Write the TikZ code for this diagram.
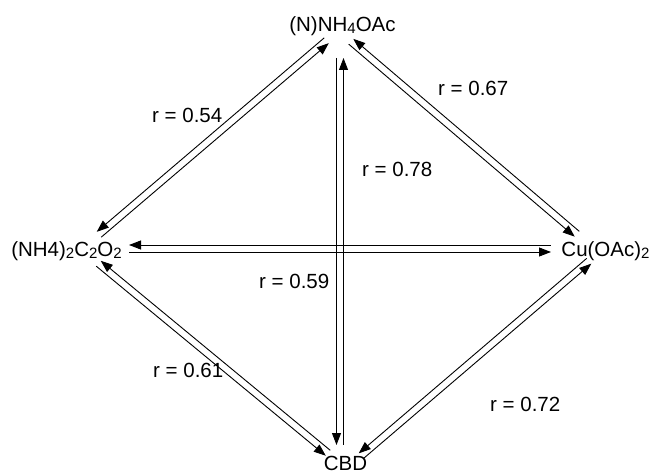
\documentclass[tikz,border=0pt]{standalone}
\usepackage{fontspec}
\setmainfont{Liberation Sans}
\usetikzlibrary{arrows.meta,calc}
\newcommand\sub[1]{\raisebox{-2pt}{\fontsize{15}{15}\selectfont #1}}
\tikzset{
  chem/.style={inner sep=0pt, font=\fontsize{20.5}{24}\selectfont, anchor=base},
  lbl/.style={inner sep=0pt, font=\fontsize{20.5}{24}\selectfont, anchor=base west},
  conn/.style={line width=0.9pt, draw=black},
  tip/.tip={Triangle[length=12pt,width=9pt]}
}
% left line: arrow at first end; right line: arrow at second end
\newcommand\dpair[2]{%
  \draw[conn,tip-] ($#1!3.5pt!90:#2$) -- ($#2!3.5pt!-90:#1$);
  \draw[conn,-tip] ($#1!3.5pt!-90:#2$) -- ($#2!3.5pt!90:#1$);
}
\begin{document}
\begin{tikzpicture}[x=1pt,y=1pt]
\useasboundingbox (0,0) rectangle (650,475);
\node[chem] (A) at (342.5,443) {(N)NH\sub{4}OAc};
\node[chem] (L) at (66.5,219) {(NH4)\sub{2}C\sub{2}O\sub{2}};
\node[chem] (R) at (605.5,219) {Cu(OAc)\sub{2}};
\node[chem] (B) at (345.5,4.5) {CBD};

\dpair{([shift={(32.5,21.5)}]L.base)}{([shift={(-16,-8.5)}]A.base)}
\dpair{([shift={(8.5,-9.5)}]A.base)}{([shift={(-28.5,22)}]R.base)}
\dpair{([shift={(62.5,7.5)}]L.base)}{([shift={(-54.5,7.5)}]R.base)}
\dpair{([shift={(-2.5,-26)}]A.base)}{([shift={(-5.5,25.5)}]B.base)}
\dpair{([shift={(32,-7.5)}]L.base)}{([shift={(-17.5,17.5)}]B.base)}
\dpair{([shift={(15.5,14.5)}]B.base)}{([shift={(-16.5,-5)}]R.base)}

\node[lbl] (l1) at (152,353) {r = 0.54};
\node[lbl] (l2) at (438,380) {r = 0.67};
\node[lbl] (l3) at (362,299) {r = 0.78};
\node[lbl] (l4) at (259,187) {r = 0.59};
\node[lbl] (l5) at (153,98) {r = 0.61};
\node[lbl] (l6) at (490,64) {r = 0.72};
\end{tikzpicture}
\end{document}
